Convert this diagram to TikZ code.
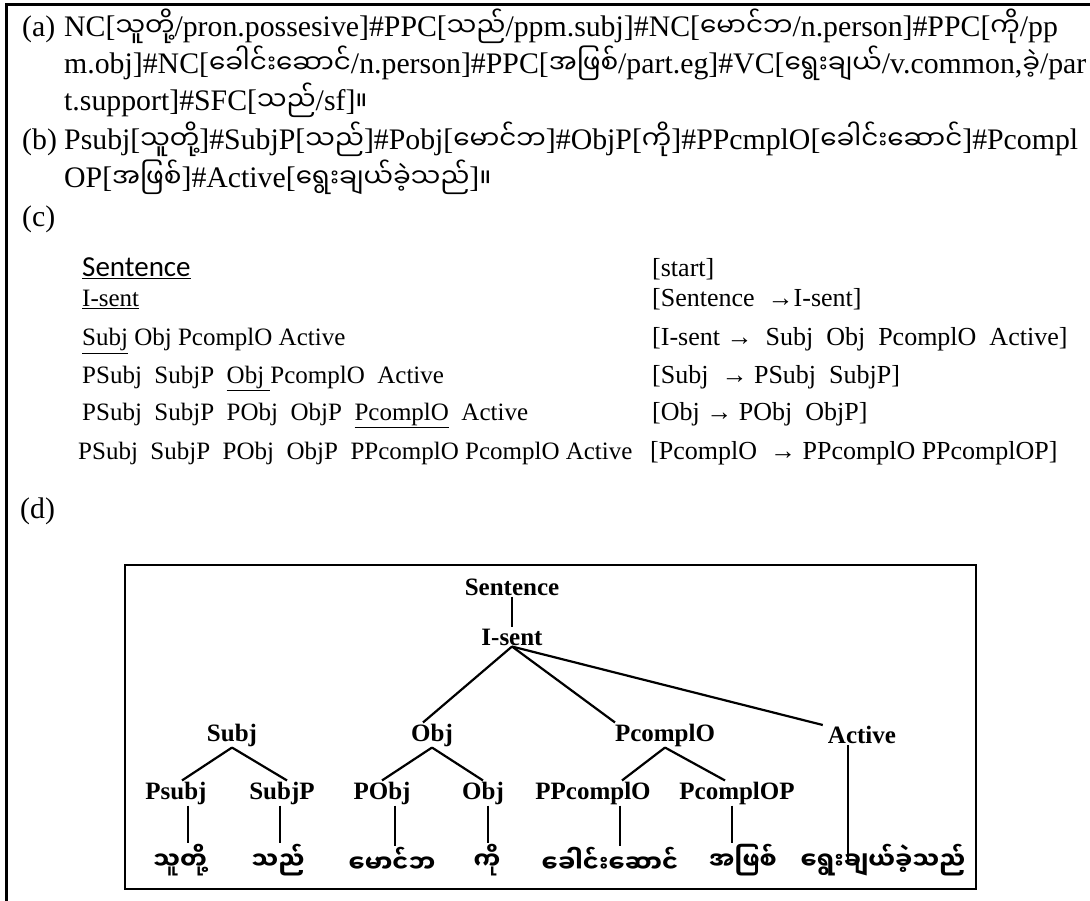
\documentclass[tikz,border=0pt]{standalone}
\usepackage{fontspec}
\setmainfont{Liberation Serif}
\newfontfamily\myfont[Script=Myanmar,Scale=0.88]{Noto Sans Myanmar UI}
\newfontfamily\mytree[Script=Myanmar]{Noto Sans Myanmar UI}
\newfontfamily\calfont{Carlito}
\newcommand\mya[1]{{\myfont #1}}
\begin{document}
\begin{tikzpicture}[x=1pt,y=-1pt,
  toprow/.style={anchor=base west, inner sep=0pt, font=\fontsize{29.8}{31}\selectfont},
  lrow/.style={anchor=base west, inner sep=0pt, font=\fontsize{25}{27}\selectfont},
  rrow/.style={anchor=base west, inner sep=0pt, font=\fontsize{26}{28}\selectfont},
  tlab/.style={inner sep=1pt, font=\fontsize{25}{27}\selectfont\bfseries},
  tword/.style={inner sep=1pt, font=\fontsize{24}{26}\selectfont\mytree\bfseries},
  branch/.style={line width=2.2pt},
  frame/.style={line width=3pt},
  box/.style={line width=2.5pt}]
\useasboundingbox (0,0) rectangle (1090,901);
% outer frame (top and left)
\draw[frame] (6,901) -- (6,5) -- (1090,5);

% (a)
\node[toprow] (la) at (22,37) {(a)};
\node[toprow] (a1) at (64,37) {NC[\mya{သူတို့}/pron.possesive]\#PPC[\mya{သည်}/ppm.subj]\#NC[\mya{မောင်ဘ}/n.person]\#PPC[\mya{ကို}/pp};
\node[toprow] (a2) at (64,74) {m.obj]\#NC[\mya{ခေါင်းဆောင်}/n.person]\#PPC[\mya{အဖြစ်}/part.eg]\#VC[\mya{ရွေးချယ်}/v.common,\mya{ခဲ့}/par};
\node[toprow] (a3) at (64,111) {t.support]\#SFC[\mya{သည်}/sf]\mya{။}};
% (b)
\node[toprow] (lb) at (22,150) {(b)};
\node[toprow] (b1) at (64,150) {Psubj[\mya{သူတို့}]\#SubjP[\mya{သည်}]\#Pobj[\mya{မောင်ဘ}]\#ObjP[\mya{ကို}]\#PPcmplO[\mya{ခေါင်းဆောင်}]\#Pcompl};
\node[toprow] (b2) at (64,188) {OP[\mya{အဖြစ်}]\#Active[\mya{ရွေးချယ်ခဲ့သည်}]\mya{။}};
% (c)
\node[toprow] (lc) at (22,227) {(c)};
\node[lrow, font=\fontsize{29}{31}\selectfont\calfont] (c1) at (82,277) {\underline{Sentence}};
\node[lrow] (c2) at (82,307) {\underline{I-sent}};
\node[lrow] (c3) at (82,346) {\underline{Subj} Obj PcomplO Active};
\node[lrow] (c4) at (82,383) {PSubj~ SubjP~ \underline{Obj\ }PcomplO~ Active};
\node[lrow] (c5) at (82,420) {PSubj~ SubjP~ PObj~ ObjP~ \underline{PcomplO}~ Active};
\node[lrow] (c6) at (78,459) {PSubj~ SubjP~ PObj~ ObjP~ PPcomplO PcomplO Active};
\node[rrow] (r1) at (652,277) {[start]};
\node[rrow] (r2) at (652,307) {[Sentence~ →I-sent]};
\node[rrow] (r3) at (652,346) {[I-sent →~ Subj~ Obj~ PcomplO~ Active]};
\node[rrow] (r4) at (652,383) {[Subj~ → PSubj~ SubjP]};
\node[rrow] (r5) at (652,420) {[Obj → PObj~ ObjP]};
\node[rrow] (r6) at (650,459) {[PcomplO~ → PPcomplO PPcomplOP]};
% (d)
\node[toprow] (ld) at (20,518) {(d)};

% tree box
\draw[box] (125,565) rectangle (976,889);

% tree nodes
\node[tlab] (sent) at (512,587) {Sentence};
\node[tlab] (isent) at (512,637) {I-sent};
\node[tlab] (subj) at (232,735) {Subj};
\node[tlab] (obj) at (432,735) {Obj};
\node[tlab] (pco) at (665,735) {PcomplO};
\node[tlab] (act) at (862,735) {Active};
\node[tlab] (psubj) at (176,793) {Psubj};
\node[tlab] (subjp) at (282,793) {SubjP};
\node[tlab] (pobj) at (382,793) {PObj};
\node[tlab] (objp) at (483,793) {Obj};
\node[tlab] (ppco) at (593,793) {PPcomplO};
\node[tlab] (pcop) at (737,793) {PcomplOP};
\node[tword] (w1) at (180,860) {သူတို့};
\node[tword] (w2) at (278,860) {သည်};
\node[tword] (w3) at (392,860) {မောင်ဘ};
\node[tword] (w4) at (487,860) {ကို};
\node[tword] (w5) at (610,860) {ခေါင်းဆောင်};
\node[tword] (w6) at (743,860) {အဖြစ်};
\node[tword] (w7) at (883,860) {ရွေးချယ်ခဲ့သည်};

% branches
\draw[branch] (sent.south) -- (isent.north);
\draw[branch] (isent.south) -- ([xshift=-9pt]obj.north);
\draw[branch] (isent.south) -- ([xshift=-50pt]pco.north);
\draw[branch] (isent.south) -- ([xshift=-4pt]act.north west);
\draw[branch] (subj.south) -- ([xshift=6pt]psubj.north);
\draw[branch] (subj.south) -- ([xshift=5pt]subjp.north);
\draw[branch] (obj.south) -- (pobj.north);
\draw[branch] (obj.south) -- (objp.north);
\draw[branch] (pco.south) -- ([xshift=29pt]ppco.north);
\draw[branch] (pco.south) -- ([xshift=-12pt]pcop.north);
\draw[branch] ([xshift=12pt]psubj.south) -- ([xshift=12pt]psubj.south |- w1.north);
\draw[branch] ([xshift=-2pt]subjp.south) -- ([xshift=-2pt]subjp.south |- w2.north);
\draw[branch] ([xshift=13pt]pobj.south) -- ([xshift=13pt]pobj.south |- w3.north);
\draw[branch] ([xshift=5pt]objp.south) -- ([xshift=5pt]objp.south |- w4.north);
\draw[branch] ([xshift=27pt]ppco.south) -- ([xshift=27pt]ppco.south |- w5.north);
\draw[branch] ([xshift=-5pt]pcop.south) -- ([xshift=-5pt]pcop.south |- w6.north);
\draw[branch] ([xshift=-14pt]act.south) -- ([xshift=-14pt]act.south |- w7.center);
\end{tikzpicture}
\end{document}
